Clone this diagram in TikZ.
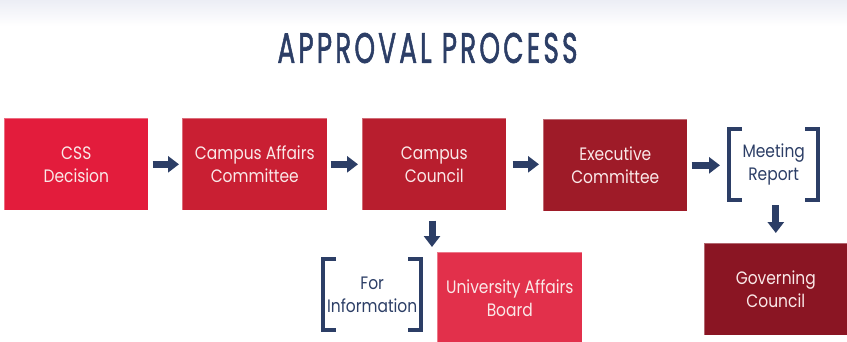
\documentclass[tikz,border=0pt]{standalone}
\usepackage{fontspec}
\setmainfont{Poppins}
\newfontfamily\boxfont[FakeStretch=0.86]{Poppins}
\newfontfamily\titlefont[LetterSpace=12,FakeBold=1.8]{Poppins}
\usetikzlibrary{arrows.meta,calc}
\definecolor{navy}{RGB}{44,62,102}
\definecolor{cA}{RGB}{227,28,60}
\definecolor{cB}{RGB}{201,31,51}
\definecolor{cC}{RGB}{184,30,46}
\definecolor{cD}{RGB}{158,27,40}
\definecolor{cE}{RGB}{138,21,35}
\definecolor{cF}{RGB}{226,48,75}
\definecolor{boxtext}{RGB}{250,232,232}
\definecolor{shadowc}{RGB}{236,238,245}
\begin{document}
\begin{tikzpicture}[x=1pt,y=-1pt,
  box/.style={minimum width=144pt, minimum height=92pt, inner sep=0pt, align=center,
    text=boxtext, font=\boxfont\fontsize{18}{23}\selectfont, anchor=north west,
    draw=white, draw opacity=0.35, line width=0.6pt},
  bracketbox/.style={minimum width=89pt, minimum height=71pt, inner sep=0pt, align=center,
    text=navy, font=\boxfont\fontsize{18}{23}\selectfont, anchor=north west},
  bracketline/.style={draw=navy, line width=4pt, line join=miter},
  bigarrow/.style={draw=navy, line width=7pt, -{Triangle[width=16pt,length=11pt]}}
]
\useasboundingbox (0,0) rectangle (847,341);
\shade[top color=shadowc, bottom color=white] (0,0) rectangle (847,26);

\node[inner sep=0pt, text=navy] (title) at (427.5,48) {\resizebox{300pt}{30pt}{\titlefont APPROVAL PROCESS}};

\node[box, fill=cA] (css) at (4,118) {CSS\\Decision};
\node[box, fill=cB, minimum width=145pt] (cac) at (182,118) {Campus Affairs\\Committee};
\node[box, fill=cC] (cc) at (362,118) {Campus\\Council};
\node[box, fill=cD] (exec) at (543,119) {Executive\\Committee};
\node[bracketbox] (mr) at (729,129) {Meeting\\Report};
\node[box, fill=cE, minimum width=143pt] (gc) at (704,243) {Governing\\Council};
\node[box, fill=cF, minimum width=145pt] (uab) at (437,252) {University Affairs\\Board};
\node[bracketbox, minimum width=98pt] (fi) at (323,259) {For\\Information};
\coordinate (infoTop) at (432,252);

\foreach \n in {mr,fi}{
  \draw[bracketline] ([xshift=13pt]\n.north west) -- (\n.north west) -- (\n.south west) -- ([xshift=13pt]\n.south west);
  \draw[bracketline] ([xshift=-13pt]\n.north east) -- (\n.north east) -- (\n.south east) -- ([xshift=-13pt]\n.south east);
}

\draw[bigarrow, shorten <=4pt, shorten >=3pt] (css.east) -- (cac.west);
\draw[bigarrow, shorten <=3pt, shorten >=4pt] (cac.east) -- (cc.west);
\draw[bigarrow, shorten <=6pt, shorten >=4pt] (cc.east) -- (cc.east -| exec.west);
\draw[bigarrow, shorten <=4pt, shorten >=9pt] (exec.east) -- (exec.east -| mr.west);
\draw[bigarrow, shorten <=5pt, shorten >=10pt] (mr.south -| gc.north) -- (gc.north);
\draw[bigarrow, shorten <=10pt, shorten >=5pt] (cc.south -| infoTop) -- (infoTop);
\end{tikzpicture}
\end{document}
